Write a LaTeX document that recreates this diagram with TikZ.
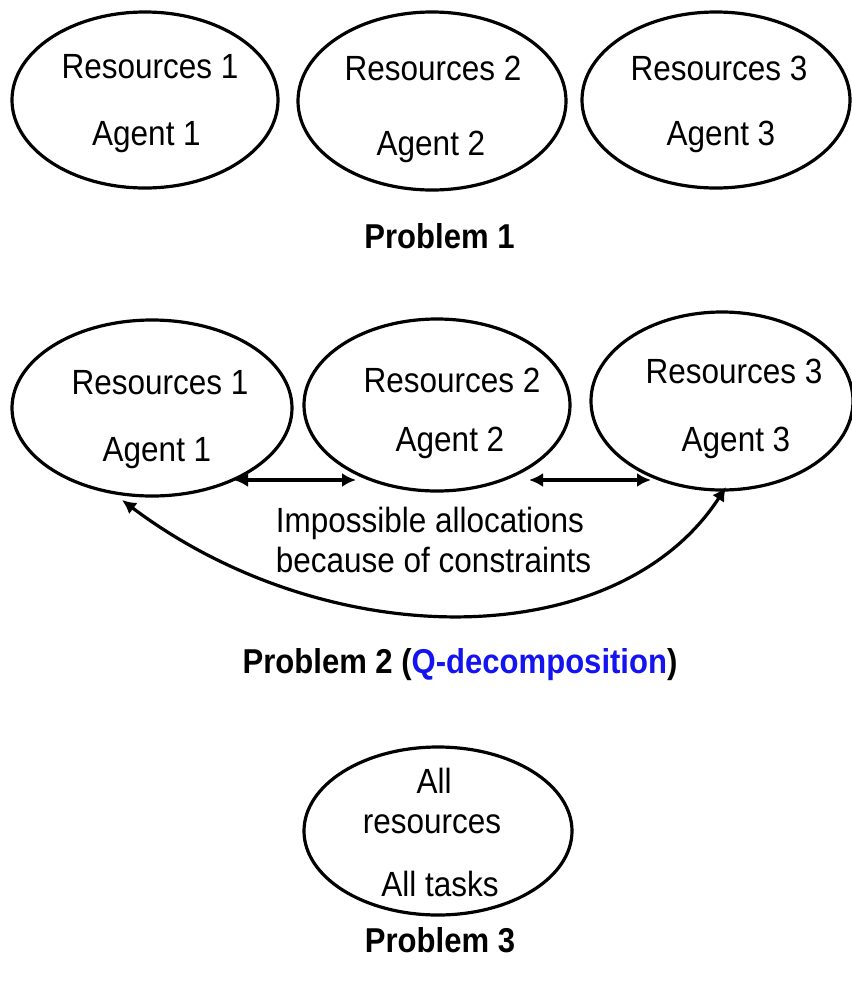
\documentclass[tikz,border=0pt]{standalone}
\usepackage{fontspec}
\setmainfont{Liberation Sans}
\usetikzlibrary{shapes.geometric,arrows.meta}
\definecolor{qblue}{RGB}{20,20,240}
\begin{document}
\begin{tikzpicture}[x=1pt,y=-1pt,
  oval/.style={draw,ellipse,line width=3.2pt,inner sep=0pt},
  txt/.style={inner sep=0pt,font=\fontsize{35}{42}\selectfont,anchor=base,xscale=0.9,transform shape},
  ttl/.style={inner sep=0pt,font=\fontsize{34.5}{41}\selectfont\bfseries,anchor=base,xscale=0.9,transform shape},
  conn/.style={line width=3.2pt,{Latex[length=14pt,width=14pt]}-{Latex[length=14pt,width=14pt]}}]
\useasboundingbox (0,0) rectangle (852,986);
% Problem 1
\node[oval,minimum width=266pt,minimum height=176pt] (a1) at (145,100) {};
\node[oval,minimum width=268pt,minimum height=178pt] (a2) at (432,101) {};
\node[oval,minimum width=268pt,minimum height=176pt] (a3) at (716,100) {};
\node[txt] (a1r) at (150,78) {Resources 1};
\node[txt] (a1a) at (146.5,145) {Agent 1};
\node[txt] (a2r) at (433,80) {Resources 2};
\node[txt] (a2a) at (431,155) {Agent 2};
\node[txt] (a3r) at (719,80) {Resources 3};
\node[txt] (a3a) at (721,145) {Agent 3};
\node[ttl] (p1) at (439.5,248) {Problem 1};
% Problem 2
\node[oval,minimum width=280pt,minimum height=176pt] (b1) at (152,408) {};
\node[oval,minimum width=266pt,minimum height=172pt] (b2) at (437,405) {};
\node[oval,minimum width=262pt,minimum height=178pt] (b3) at (722,401) {};
\node[txt] (b1r) at (160,394) {Resources 1};
\node[txt] (b1a) at (157,461) {Agent 1};
\node[txt] (b2r) at (452,392) {Resources 2};
\node[txt] (b2a) at (450,451) {Agent 2};
\node[txt] (b3r) at (734,383) {Resources 3};
\node[txt] (b3a) at (736,451) {Agent 3};
\coordinate (c1) at (234,480);
\coordinate (c2) at (356,480);
\coordinate (c3) at (529,480);
\coordinate (c4) at (651,480);
\coordinate (d1) at (122,500);
\coordinate (d2) at (726,487);
\draw[conn] (c1) -- (c2);
\draw[conn] (c3) -- (c4);
\draw[conn] (d1) .. controls (328,655) and (617,655) .. (d2);
\node[txt] (i1) at (430,532) {Impossible allocations};
\node[txt] (i2) at (433.5,572) {because of constraints};
\node[ttl] (p2) at (460,673) {Problem 2 (\textcolor{qblue}{Q-decomposition})};
% Problem 3
\node[oval,minimum width=268pt,minimum height=168pt] (e) at (438,831) {};
\node[txt] (e1) at (434,793) {All};
\node[txt] (e2) at (432,833) {resources};
\node[txt] (e3) at (440,896) {All tasks};
\node[ttl] (p3) at (440,952) {Problem 3};
\end{tikzpicture}
\end{document}
